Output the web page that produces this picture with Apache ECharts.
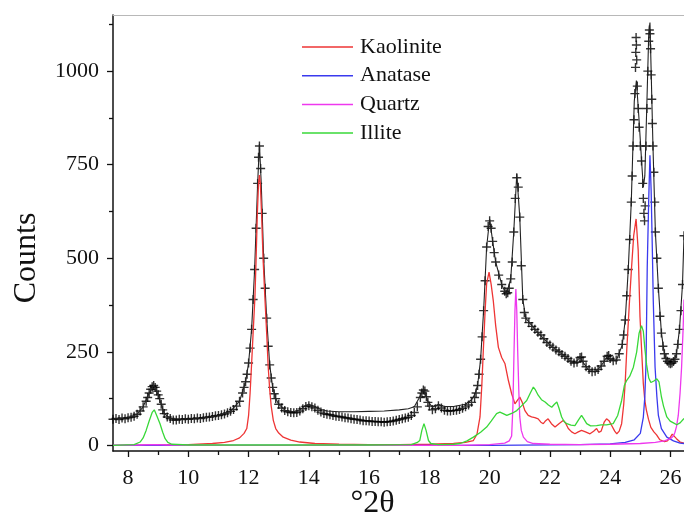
<!DOCTYPE html>
<html>
<head>
<meta charset="utf-8">
<script src="https://cdn.jsdelivr.net/npm/echarts@6/dist/echarts.min.js"></script>
<style>html,body{margin:0;padding:0;background:#fff}#c{width:684px;height:519px}</style>
</head>
<body>
<div id="c"></div>
<script>
// ---- data ----
var xTickLabels = [8, 10, 12, 14, 16, 18, 20, 22, 24, 26];
var xMinorTicks = [9, 11, 13, 15, 17, 19, 21, 23, 25];
var yTickLabels = [0, 250, 500, 750, 1000];
var yMinorTicks = [125, 375, 625, 875, 1125];
var legendNames = ['Kaolinite', 'Anatase', 'Quartz', 'Illite'];

var observed = [
[7.5,70],[7.6,72],[7.7,69],[7.8,73],[7.9,71],[8.0,74],[8.1,75],[8.2,78],[8.3,83],[8.4,92],[8.5,103],[8.6,118],[8.65,128],[8.7,140],[8.75,150],[8.8,157],[8.85,160],[8.9,155],[8.95,145],[9.0,135],[9.05,125],[9.1,110],[9.15,95],[9.2,85],[9.3,76],[9.4,72],[9.5,68],[9.6,68],[9.7,70],[9.8,69],[9.9,71],[10.0,70],[10.1,72],[10.2,71],[10.3,73],[10.4,72],[10.5,74],[10.6,75],[10.7,76],[10.8,77],[10.9,79],[11.0,80],[11.1,82],[11.2,84],[11.3,87],[11.4,91],[11.5,96],[11.6,105],[11.7,118],[11.8,140],[11.85,155],[11.9,170],[11.95,190],[12.0,220],[12.05,260],[12.1,310],[12.15,390],[12.2,470],[12.25,580],[12.3,700],[12.33,770],[12.36,800],[12.4,740],[12.45,620],[12.5,500],[12.55,420],[12.6,340],[12.65,265],[12.7,215],[12.75,180],[12.8,155],[12.85,138],[12.9,125],[13.0,110],[13.1,100],[13.2,93],[13.3,90],[13.4,88],[13.5,87],[13.6,88],[13.7,92],[13.8,98],[13.9,104],[14.0,106],[14.1,103],[14.2,100],[14.3,94],[14.4,89],[14.5,85],[14.6,83],[14.7,82],[14.8,80],[14.9,78],[15.0,77],[15.1,76],[15.2,74],[15.3,73],[15.4,71],[15.5,70],[15.6,69],[15.7,68],[15.8,66],[15.9,66],[16.0,65],[16.1,64],[16.2,64],[16.3,63],[16.4,63],[16.5,62],[16.6,63],[16.7,64],[16.8,65],[16.9,67],[17.0,69],[17.1,71],[17.2,73],[17.3,75],[17.4,80],[17.5,88],[17.6,103],[17.7,128],[17.75,140],[17.8,148],[17.85,145],[17.9,130],[17.95,115],[18.0,105],[18.1,95],[18.2,98],[18.3,106],[18.4,100],[18.5,94],[18.6,92],[18.7,92],[18.8,93],[18.9,94],[19.0,96],[19.1,99],[19.2,103],[19.3,108],[19.4,115],[19.5,128],[19.55,140],[19.6,160],[19.65,190],[19.7,230],[19.75,290],[19.8,360],[19.85,440],[19.9,530],[19.95,585],[20.0,600],[20.05,580],[20.1,545],[20.15,515],[20.2,490],[20.3,455],[20.4,430],[20.5,412],[20.55,405],[20.6,408],[20.65,420],[20.7,445],[20.75,490],[20.8,570],[20.85,660],[20.9,715],[20.95,690],[21.0,610],[21.05,480],[21.1,390],[21.15,355],[21.2,340],[21.3,328],[21.4,318],[21.5,310],[21.6,302],[21.7,295],[21.8,285],[21.9,275],[22.0,268],[22.1,262],[22.2,255],[22.3,250],[22.4,243],[22.5,238],[22.6,232],[22.7,225],[22.8,220],[22.9,222],[23.0,235],[23.05,236],[23.1,225],[23.2,210],[23.3,203],[23.4,197],[23.5,198],[23.6,203],[23.7,212],[23.8,225],[23.9,238],[23.95,240],[24.0,232],[24.1,226],[24.2,228],[24.3,245],[24.4,270],[24.45,295],[24.5,335],[24.55,400],[24.6,470],[24.65,550],[24.7,650],[24.73,720],[24.76,800],[24.79,870],[24.82,940],[24.84,1010],[24.85,1050],[24.86,1090],[24.87,1070],[24.88,1030],[24.9,960],[24.93,900],[24.96,850],[25.0,800],[25.04,760],[25.08,700],[25.1,660],[25.12,620],[25.14,600],[25.16,640],[25.19,800],[25.22,900],[25.25,1000],[25.28,1080],[25.3,1110],[25.32,1100],[25.34,1060],[25.36,990],[25.38,925],[25.4,860],[25.42,800],[25.45,730],[25.48,650],[25.5,570],[25.55,500],[25.6,420],[25.65,345],[25.7,300],[25.75,265],[25.8,245],[25.85,232],[25.9,225],[25.95,220],[26.0,218],[26.05,220],[26.1,224],[26.15,230],[26.2,245],[26.25,270],[26.3,310],[26.35,360],[26.4,430],[26.45,560]
];

var fitted = [
[7.5,70],[8.0,74],[8.3,83],[8.5,103],[8.7,140],[8.85,160],[9.0,135],[9.2,85],[9.4,72],[9.8,70],[10.4,72],[11.0,80],[11.4,91],[11.7,118],[11.9,170],[12.0,220],[12.1,310],[12.2,470],[12.3,700],[12.36,805],[12.42,700],[12.5,500],[12.6,340],[12.7,215],[12.8,155],[12.9,125],[13.0,110],[13.2,94],[13.5,90],[13.7,95],[13.9,107],[14.0,110],[14.2,104],[14.4,96],[14.6,92],[15.0,90],[15.5,90],[16.0,91],[16.5,92],[17.0,95],[17.3,98],[17.5,103],[17.65,125],[17.8,150],[17.95,118],[18.1,102],[18.3,110],[18.5,104],[18.8,104],[19.2,110],[19.4,122],[19.5,135],[19.6,160],[19.7,230],[19.8,360],[19.9,530],[20.0,605],[20.1,545],[20.2,490],[20.4,430],[20.55,403],[20.7,445],[20.8,570],[20.9,725],[21.0,610],[21.1,390],[21.2,340],[21.5,310],[22.0,268],[22.5,238],[22.8,218],[23.0,235],[23.1,222],[23.3,200],[23.5,196],[23.7,212],[23.9,238],[24.0,230],[24.2,226],[24.4,268],[24.5,335],[24.6,470],[24.7,650],[24.8,920],[24.87,975],[24.95,880],[25.05,750],[25.1,690],[25.15,720],[25.22,920],[25.28,1100],[25.32,1130],[25.36,1000],[25.42,800],[25.5,570],[25.6,420],[25.7,300],[25.8,245],[25.9,222],[26.0,216],[26.1,222],[26.2,245],[26.3,310],[26.4,430],[26.45,560]
];

var kaolinite = [
[7.5,0],[9,1],[10,2],[10.8,5],[11.2,8],[11.5,13],[11.7,20],[11.85,32],[11.94,45],[12.0,80],[12.05,140],[12.1,218],[12.15,300],[12.21,396],[12.25,500],[12.29,619],[12.33,700],[12.36,722],[12.39,700],[12.43,619],[12.48,500],[12.54,396],[12.6,300],[12.65,211],[12.7,150],[12.75,105],[12.82,67],[12.9,45],[13.0,33],[13.15,22],[13.4,14],[13.7,9],[14.2,5],[15,3],[16,2],[17,2],[18,3],[18.8,5],[19.2,8],[19.46,13],[19.58,30],[19.68,76],[19.74,160],[19.79,254],[19.85,360],[19.9,432],[19.98,463],[20.05,430],[20.12,387],[20.2,320],[20.29,262],[20.4,235],[20.51,218],[20.62,174],[20.73,138],[20.84,111],[20.92,120],[21.0,129],[21.08,115],[21.17,93],[21.28,80],[21.39,76],[21.5,74],[21.61,71],[21.7,62],[21.78,58],[21.86,66],[21.94,71],[22.05,58],[22.17,49],[22.3,58],[22.45,67],[22.53,58],[22.61,45],[22.72,36],[22.83,31],[22.94,36],[23.05,40],[23.18,36],[23.33,31],[23.45,38],[23.55,45],[23.62,35],[23.7,38],[23.8,62],[23.88,71],[23.96,66],[24.05,53],[24.15,38],[24.22,31],[24.3,38],[24.38,58],[24.45,110],[24.5,170],[24.55,254],[24.63,370],[24.71,476],[24.78,560],[24.86,605],[24.93,521],[24.99,343],[25.04,260],[25.1,165],[25.15,120],[25.2,95],[25.27,70],[25.35,48],[25.45,36],[25.54,28],[25.65,15],[25.8,10],[25.9,12],[26.0,22],[26.06,30],[26.12,28],[26.2,18],[26.32,9],[26.45,6]
];

var anatase = [
[7.5,0],[20,0],[23,2],[24,4],[24.5,8],[24.8,15],[25.0,32],[25.1,75],[25.15,130],[25.19,220],[25.23,476],[25.28,660],[25.32,775],[25.36,680],[25.4,520],[25.43,387],[25.49,209],[25.55,130],[25.6,80],[25.7,45],[25.88,22],[26.1,12],[26.32,6],[26.45,5]
];

var quartz = [
[7.5,0],[8.4,1],[8.85,2],[9.3,1],[10,0],[19,0],[20,2],[20.5,6],[20.65,12],[20.73,25],[20.77,100],[20.81,254],[20.84,360],[20.87,418],[20.9,360],[20.93,254],[20.97,140],[21.0,76],[21.05,40],[21.12,22],[21.25,10],[21.45,5],[22,3],[23,2],[24,3],[25,5],[25.5,8],[25.8,12],[26.0,18],[26.1,25],[26.15,35],[26.2,50],[26.26,80],[26.32,140],[26.37,209],[26.42,310],[26.45,390]
];

var illite = [
[7.5,0],[8.2,2],[8.4,9],[8.5,20],[8.6,40],[8.7,65],[8.8,88],[8.87,95],[8.95,80],[9.06,58],[9.15,35],[9.23,18],[9.32,8],[9.45,3],[10,1],[12,1],[14,1],[16,1],[17.4,2],[17.6,8],[17.68,13],[17.75,40],[17.82,58],[17.89,40],[17.97,13],[18.05,5],[18.3,2],[18.8,3],[19.02,5],[19.25,12],[19.46,22],[19.7,35],[19.9,49],[20.05,65],[20.23,85],[20.34,89],[20.45,85],[20.57,80],[20.75,86],[20.9,93],[21.05,105],[21.23,120],[21.35,140],[21.45,156],[21.52,148],[21.61,134],[21.72,122],[21.84,116],[21.95,108],[22.06,102],[22.15,110],[22.23,116],[22.3,100],[22.39,76],[22.47,64],[22.56,58],[22.7,54],[22.83,53],[22.95,68],[23.05,80],[23.13,70],[23.22,58],[23.35,52],[23.55,53],[23.7,55],[23.88,55],[24.1,58],[24.25,80],[24.38,120],[24.47,160],[24.55,174],[24.65,185],[24.77,209],[24.88,250],[24.96,300],[25.04,320],[25.1,305],[25.15,260],[25.21,215],[25.28,180],[25.35,168],[25.45,172],[25.55,178],[25.62,170],[25.7,130],[25.77,105],[25.88,76],[25.99,65],[26.1,60],[26.21,55],[26.32,60],[26.45,72]
];

// ---- chart ----
var FONT = '"Liberation Serif", "Times New Roman", serif';
var X_MIN = 7.5, X_MAX = 26.45, Y_MIN = -15, Y_MAX = 1150;
var colors = { Kaolinite: '#ee3535', Anatase: '#3a3aee', Quartz: '#ee38ee', Illite: '#38d838' };

var chart = echarts.init(document.getElementById('c'), null, { renderer: 'canvas' });

function comp(name, data) {
  return {
    name: name, type: 'line', data: data, showSymbol: false, symbol: 'none',
    xAxisIndex: 0, yAxisIndex: 0, z: 5,
    lineStyle: { color: colors[name], width: 1.3 }, itemStyle: { color: colors[name] },
    emphasis: { disabled: true }
  };
}
function plain(v) { return String(v); }

chart.setOption({
  animation: false,
  backgroundColor: '#fff',
  grid: { left: 113, right: 0, top: 15, bottom: 68, containLabel: false, outerBoundsMode: 'none' },
  legend: {
    data: legendNames, orient: 'vertical', left: 297, top: 31,
    icon: 'rect', itemWidth: 51, itemHeight: 1.5, itemGap: 6.7,
    textStyle: { fontFamily: FONT, fontSize: 22, color: '#111', padding: [0, 0, 0, 2] },
    selectedMode: false
  },
  xAxis: [
    {
      type: 'value', min: X_MIN, max: X_MAX, position: 'bottom',
      name: '°2θ', nameLocation: 'middle', nameGap: 37, nameMoveOverlap: false,
      nameTextStyle: { fontFamily: FONT, fontSize: 32, color: '#111', padding: [0, 52, 0, 0] },
      axisLine: { show: true, onZero: false, lineStyle: { color: '#111', width: 1.5 } },
      axisTick: { show: true, customValues: xTickLabels, length: 6, lineStyle: { color: '#111', width: 1.3 } },
      axisLabel: { customValues: xTickLabels, formatter: plain, fontFamily: FONT, fontSize: 22, color: '#111', margin: 16 },
      splitLine: { show: false }
    },
    {
      type: 'value', min: X_MIN, max: X_MAX, position: 'bottom',
      axisLine: { show: false, onZero: false },
      axisTick: { show: true, customValues: xMinorTicks, length: 4, lineStyle: { color: '#111', width: 1.3 } },
      axisLabel: { show: false }, splitLine: { show: false }
    },
    {
      type: 'value', min: X_MIN, max: X_MAX, position: 'top',
      axisLine: { show: true, onZero: false, lineStyle: { color: '#b8b8b8', width: 1.2 } },
      axisTick: { show: false }, axisLabel: { show: false }, splitLine: { show: false }
    }
  ],
  yAxis: [
    {
      type: 'value', min: Y_MIN, max: Y_MAX, position: 'left',
      name: 'Counts', nameLocation: 'middle', nameGap: 70, nameMoveOverlap: false,
      nameTextStyle: { fontFamily: FONT, fontSize: 32, color: '#111', padding: [0, 50, 0, 0] },
      axisLine: { show: true, onZero: false, lineStyle: { color: '#111', width: 1.5 } },
      axisTick: { show: true, customValues: yTickLabels, length: 6, lineStyle: { color: '#111', width: 1.3 } },
      axisLabel: { customValues: yTickLabels, formatter: plain, fontFamily: FONT, fontSize: 22, color: '#111', margin: 14 },
      splitLine: { show: false }
    },
    {
      type: 'value', min: Y_MIN, max: Y_MAX, position: 'left',
      axisLine: { show: false, onZero: false },
      axisTick: { show: true, customValues: yMinorTicks, length: 4, lineStyle: { color: '#111', width: 1.3 } },
      axisLabel: { show: false }, splitLine: { show: false }
    }
  ],
  series: [
    {
      name: 'Observed', type: 'scatter', data: observed, xAxisIndex: 0, yAxisIndex: 0, z: 2,
      symbol: 'path://M0,5L10,5M5,0L5,10', symbolSize: 9,
      itemStyle: { color: 'rgba(0,0,0,0)', borderColor: '#000', borderWidth: 1.4 },
      emphasis: { disabled: true }
    },
    {
      name: 'Fit', type: 'line', data: fitted, xAxisIndex: 0, yAxisIndex: 0, z: 3,
      showSymbol: false, symbol: 'none',
      lineStyle: { color: '#222', width: 1.1 }, emphasis: { disabled: true }
    },
    comp('Kaolinite', kaolinite),
    comp('Anatase', anatase),
    comp('Quartz', quartz),
    comp('Illite', illite)
  ]
});
</script>
</body>
</html>
